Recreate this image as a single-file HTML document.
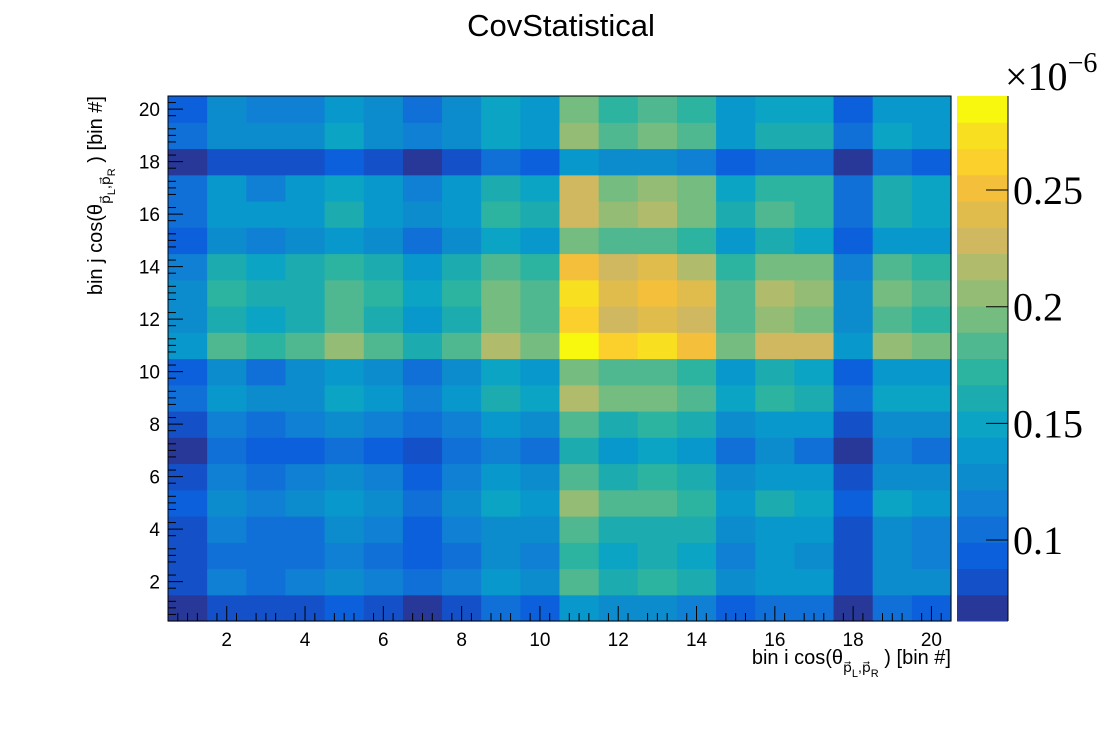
<!DOCTYPE html>
<html><head><meta charset="utf-8"><style>
body{margin:0;background:#fff;}
svg text{font-family:"Liberation Sans",sans-serif;}
</style></head><body>
<svg id="chart" width="1120" height="740" xmlns="http://www.w3.org/2000/svg">
<rect width="1120" height="740" fill="#fff"/>
<text x="561" y="36" font-size="31" text-anchor="middle">CovStatistical</text>
<g id="cells"></g>
<g id="axes"></g>
<g id="palette"></g>
<text x="951" y="664" font-size="20" text-anchor="end">bin i cos(θ<tspan font-size="14" dy="8">p⃗<tspan font-size="11" dy="5">L</tspan><tspan dy="-5">,p⃗</tspan><tspan font-size="11" dy="5">R</tspan></tspan><tspan dy="-13"> ) [bin #]</tspan></text>
<text transform="translate(102,96) rotate(-90)" font-size="20" text-anchor="end">bin j cos(θ<tspan font-size="14" dy="8">p⃗<tspan font-size="11" dy="5">L</tspan><tspan dy="-5">,p⃗</tspan><tspan font-size="11" dy="5">R</tspan></tspan><tspan dy="-13"> ) [bin #]</tspan></text>
<text x="1005" y="90" font-size="40" style="font-family:'Liberation Serif',serif">×10<tspan font-size="28" dy="-18">−6</tspan></text>
</svg>
<script>
const xCategories=[1,2,3,4,5,6,7,8,9,10,11,12,13,14,15,16,17,18,19,20];
const yCategories=[1,2,3,4,5,6,7,8,9,10,11,12,13,14,15,16,17,18,19,20];
const zTicks=[0.1,0.15,0.2,0.25];
const zTickLabels=["0.1","0.15","0.2","0.25"];
const axisTicks=[2,4,6,8,10,12,14,16,18,20];
// values (x1e-6), rows from j=1 (bottom) to j=20 (top)
const row1=[.071,.082,.082,.082,.093,.082,.071,.082,.104,.093,.138,.127,.127,.116,.093,.104,.104,.071,.104,.093];
const row2=[.082,.116,.104,.116,.127,.116,.104,.116,.138,.127,.183,.161,.172,.161,.127,.138,.138,.082,.127,.127];
const row3=[.082,.104,.104,.104,.116,.104,.093,.104,.127,.116,.172,.149,.161,.149,.116,.138,.127,.082,.127,.116];
const row4=[.082,.116,.104,.104,.127,.116,.093,.116,.127,.127,.183,.161,.161,.161,.127,.138,.138,.082,.127,.116];
const row5=[.093,.127,.116,.127,.138,.127,.104,.127,.149,.138,.206,.183,.183,.172,.138,.161,.149,.093,.149,.138];
const row6=[.082,.116,.104,.116,.127,.116,.093,.116,.138,.127,.183,.161,.172,.161,.127,.138,.138,.082,.127,.127];
const row7=[.071,.104,.093,.093,.104,.093,.082,.104,.116,.104,.161,.138,.149,.138,.104,.127,.104,.071,.116,.104];
const row8=[.082,.116,.104,.116,.127,.116,.104,.116,.138,.127,.183,.161,.172,.161,.127,.138,.138,.082,.127,.127];
const row9=[.104,.138,.127,.127,.149,.138,.116,.138,.161,.149,.217,.194,.194,.183,.149,.172,.161,.104,.149,.149];
const row10=[.093,.127,.104,.127,.138,.127,.104,.127,.149,.138,.194,.183,.183,.172,.138,.161,.149,.093,.138,.138];
const row11=[.138,.183,.172,.183,.206,.183,.161,.183,.217,.194,.284,.262,.273,.251,.194,.228,.228,.138,.206,.194];
const row12=[.127,.161,.149,.161,.183,.161,.138,.161,.194,.183,.262,.228,.239,.228,.183,.206,.194,.127,.183,.172];
const row13=[.127,.172,.161,.161,.183,.172,.149,.172,.194,.183,.273,.239,.251,.239,.183,.217,.206,.127,.194,.183];
const row14=[.116,.161,.149,.161,.172,.161,.138,.161,.183,.172,.251,.228,.239,.217,.172,.194,.194,.116,.183,.172];
const row15=[.093,.127,.116,.127,.138,.127,.104,.127,.149,.138,.194,.183,.183,.172,.138,.161,.149,.093,.138,.138];
const row16=[.104,.138,.138,.138,.161,.138,.127,.138,.172,.161,.228,.206,.217,.194,.161,.183,.172,.104,.161,.149];
const row17=[.104,.138,.116,.138,.149,.138,.116,.138,.161,.149,.228,.194,.206,.194,.149,.172,.172,.104,.161,.149];
const row18=[.071,.082,.082,.082,.093,.082,.071,.082,.104,.093,.138,.127,.127,.116,.093,.104,.104,.071,.104,.093];
const row19=[.104,.127,.127,.127,.149,.127,.116,.127,.149,.138,.206,.183,.194,.183,.138,.161,.161,.104,.149,.138];
const row20=[.093,.127,.116,.116,.138,.127,.104,.127,.149,.138,.194,.172,.183,.172,.138,.149,.149,.093,.138,.138];
const values=[row1,row2,row3,row4,row5,row6,row7,row8,row9,row10,row11,row12,row13,row14,row15,row16,row17,row18,row19,row20];
const zMin=0.0653, zMax=0.2903;
const colors=["#283898","#1450c8","#0c60dc","#1070d8","#1080d4","#0c8ccc","#0898cc","#0ca4c4","#1cacb0","#2cb4a0","#50b890","#74bc80","#94bc74","#b0bc6c","#d0b860","#e0bc4c","#f4c03c","#fcd02c","#f8e020","#f8f80f"];
const X0=168,X1=951,Y0=621,Y1=96,PX0=957,PX1=1008;
const xs=v=>X0+(v-0.5)*(X1-X0)/20;
const ys=v=>Y0-(v-0.5)*(Y0-Y1)/20;
const zs=z=>Y0-(z-zMin)/(zMax-zMin)*(Y0-Y1);
function colorOf(z){let i=Math.floor((z-zMin)/(zMax-zMin)*colors.length);i=Math.max(0,Math.min(colors.length-1,i));return colors[i];}
const NS="http://www.w3.org/2000/svg";
function mk(tag,attrs,parent){const e=document.createElementNS(NS,tag);for(const k in attrs)e.setAttribute(k,attrs[k]);parent.appendChild(e);return e;}
const cells=document.getElementById('cells');
yCategories.forEach((yc,j)=>{xCategories.forEach((xc,i)=>{
 const x=xs(xc-0.5),x2=xs(xc+0.5),y=ys(yc+0.5),y2=ys(yc-0.5);
 const r=mk('rect',{x:x,y:y,width:x2-x+0.6,height:y2-y+0.6,fill:colorOf(values[j][i])},cells);
 
 
});});
const ax=document.getElementById('axes');
const frame=mk('rect',{x:X0,y:Y1,width:X1-X0,height:Y0-Y1,fill:'none',stroke:'#000','stroke-width':1},ax);


for(let v=1;v<=20;v++){
 const big=v%2===0;const L=big?15:8;
 mk('line',{x1:xs(v),x2:xs(v),y1:Y0,y2:Y0-L,stroke:'#000'},ax);
 mk('line',{x1:X0,x2:X0+L,y1:ys(v),y2:ys(v),stroke:'#000'},ax);
}
for(let v=0.75;v<=20.5;v+=0.5){ if(Math.abs(v-Math.round(v))>0.1){
 mk('line',{x1:xs(v),x2:xs(v),y1:Y0,y2:Y0-8,stroke:'#000'},ax);
 mk('line',{x1:X0,x2:X0+8,y1:ys(v),y2:ys(v),stroke:'#000'},ax);}}
axisTicks.forEach(t=>{
 const tx=mk('text',{x:xs(t),y:646,'font-size':19,'text-anchor':'middle'},ax);tx.textContent=t;
 
 
 const ty=mk('text',{x:160,y:ys(t)+7,'font-size':19,'text-anchor':'end'},ax);ty.textContent=t;
 
 
});
const pal=document.getElementById('palette');
colors.forEach((c,i)=>{
 const z0=zMin+i*(zMax-zMin)/colors.length,z1=zMin+(i+1)*(zMax-zMin)/colors.length;
 const r=mk('rect',{x:PX0,y:zs(z1),width:PX1-PX0,height:zs(z0)-zs(z1)+0.5,fill:c},pal);
 
 
});
mk('line',{x1:PX1,x2:PX1,y1:Y1,y2:Y0,stroke:'#000'},pal);
zTicks.forEach((z,k)=>{
 mk('line',{x1:PX1-22,x2:PX1,y1:zs(z),y2:zs(z),stroke:'#000'},pal);
 const t=mk('text',{x:1013,y:zs(z)+14,'font-size':40,style:"font-family:'Liberation Serif',serif"},pal);t.textContent=zTickLabels[k];
 
 
});
</script>
</body></html>
